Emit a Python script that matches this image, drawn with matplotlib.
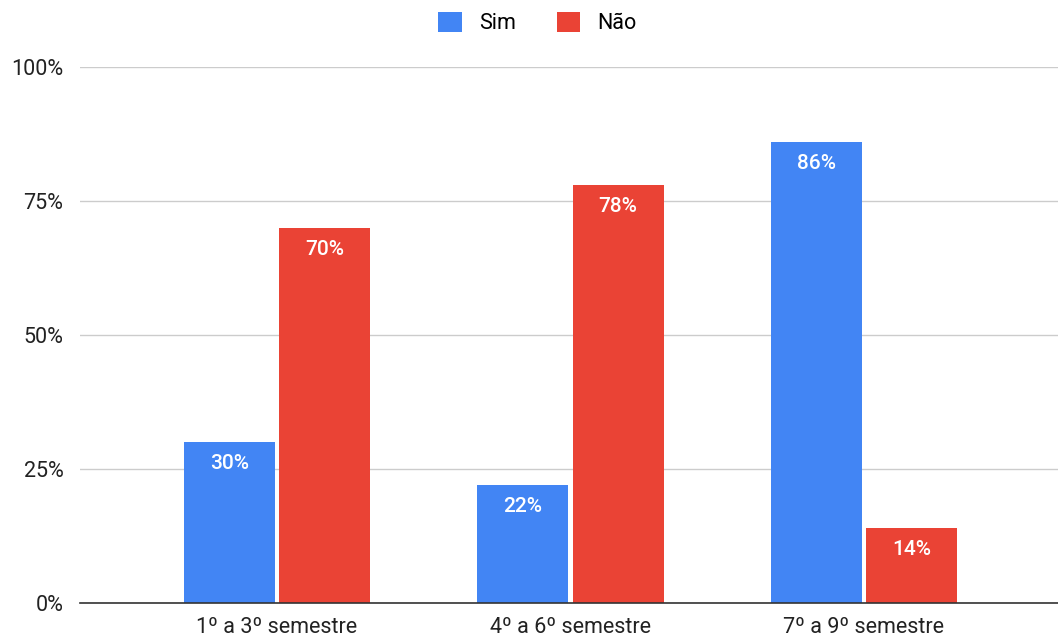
import numpy as np
import matplotlib.pyplot as plt
from matplotlib.ticker import FixedLocator

plt.rcParams['font.family'] = ['Roboto', 'DejaVu Sans']

categories = ['1º a 3º semestre', '4º a 6º semestre', '7º a 9º semestre']
sim = [30, 22, 86]
nao = [70, 78, 14]
yticks = [0, 25, 50, 75, 100]

blue = '#4285F4'
red = '#EA4335'

fig = plt.figure(figsize=(10.58, 6.36), dpi=100)
ax = fig.add_axes([0.0756, 0.0519, 0.9244, 0.8428])

x = np.arange(len(categories))
w = 0.31
off = 0.162
b1 = ax.bar(x - off, sim, w, color=blue, label='Sim', zorder=3)
b2 = ax.bar(x + off, nao, w, color=red, label='Não', zorder=3)

for bars, vals in ((b1, sim), (b2, nao)):
    for r, v in zip(bars, vals):
        ax.text(r.get_x() + r.get_width() / 2, v - 2.2, '%d%%' % v,
                ha='center', va='top', color='white', fontsize=15,
                fontweight='medium', zorder=4)

ax.set_xlim(-0.671, 2.661)
ax.set_ylim(0, 100)
ax.yaxis.set_major_locator(FixedLocator(yticks))
ax.set_yticklabels(['%d%%' % t for t in yticks])
ax.set_xticks(x)
ax.set_xticklabels(categories)
ax.tick_params(axis='both', length=0, labelsize=15.5, colors='#222222')
ax.tick_params(axis='y', pad=12)
ax.tick_params(axis='x', pad=10)
ax.grid(axis='y', color='#cccccc', linewidth=1, zorder=0)
for s in ('top', 'right', 'left'):
    ax.spines[s].set_visible(False)
ax.spines['bottom'].set_color('#333333')
ax.spines['bottom'].set_linewidth(1.2)
ax.spines['bottom'].set_zorder(5)

fig.legend(loc='upper center', bbox_to_anchor=(0.508, 1.012), ncol=2, frameon=False,
           fontsize=15.5, handlelength=1.1, handleheight=1.1, columnspacing=1.9,
           handletextpad=0.8)

fig.savefig('out.png', dpi=100)
